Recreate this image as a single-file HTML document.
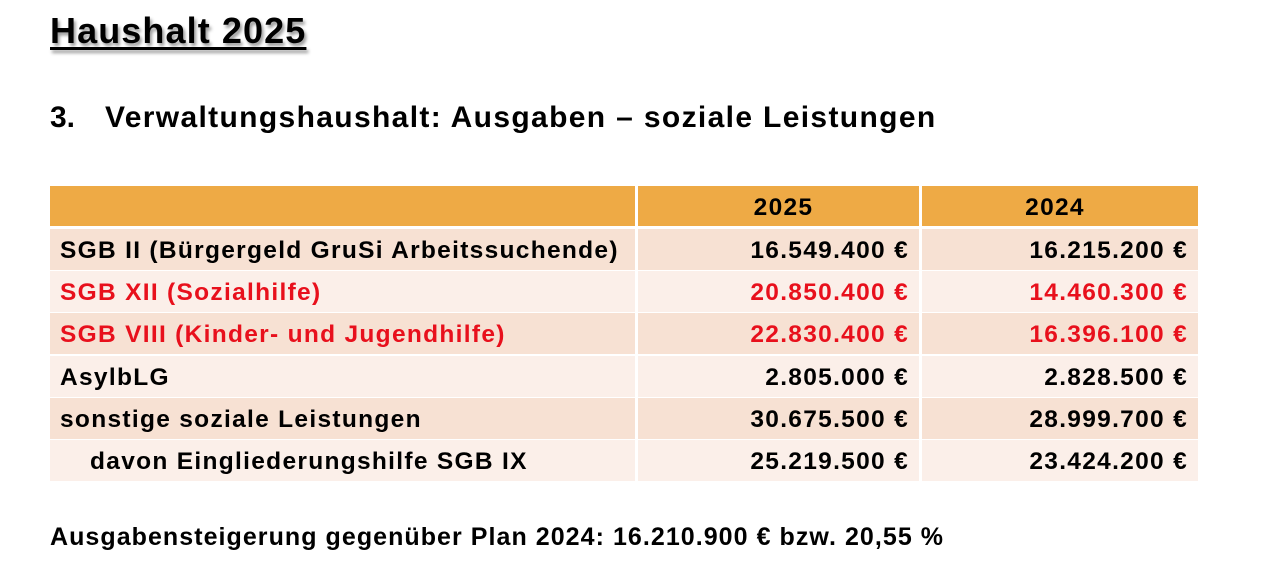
<!DOCTYPE html>
<html><head><meta charset="utf-8"><style>
body{margin:0;width:1280px;height:568px;background:#fff;font-family:"Liberation Sans",sans-serif;font-weight:bold;position:relative;overflow:hidden;color:#000}
.a{position:absolute;white-space:nowrap}
.c{position:absolute;height:41px;line-height:43px;font-size:24.5px;letter-spacing:1.3px;box-sizing:border-box;white-space:nowrap}
.d{background:#f7e1d3}.l{background:#fbefe9}.h{background:#eeaa45}
.r{text-align:right;padding-right:10px}
.red{color:#e8101c}
</style></head><body>
<div class="a" style="left:50px;top:10px;font-size:36px;letter-spacing:1.1px;text-decoration:underline;text-decoration-thickness:3px;text-underline-offset:4px;text-shadow:2px 3px 3px #999">Haushalt 2025</div>
<div class="a" style="left:50px;top:101px;font-size:30px">3.</div>
<div class="a" style="left:105px;top:101px;font-size:30px;letter-spacing:1.35px">Verwaltungshaushalt: Ausgaben – soziale Leistungen</div>

<div class="c h" style="left:50px;top:186px;width:585px;height:40px"></div>
<div class="c h" style="left:638px;top:186px;width:281px;height:40px;text-align:center;line-height:44px;padding-left:10px">2025</div>
<div class="c h" style="left:922px;top:186px;width:276px;height:40px;text-align:center;line-height:44px;padding-right:10px">2024</div>

<div class="c d" style="left:50px;top:229px;width:585px;padding-left:10px">SGB II (Bürgergeld GruSi Arbeitssuchende)</div>
<div class="c d r" style="left:638px;top:229px;width:281px">16.549.400 €</div>
<div class="c d r" style="left:922px;top:229px;width:276px">16.215.200 €</div>

<div class="c l red" style="left:50px;top:271px;width:585px;padding-left:10px">SGB XII (Sozialhilfe)</div>
<div class="c l r red" style="left:638px;top:271px;width:281px">20.850.400 €</div>
<div class="c l r red" style="left:922px;top:271px;width:276px">14.460.300 €</div>

<div class="c d red" style="left:50px;top:313px;width:585px;padding-left:10px">SGB VIII (Kinder- und Jugendhilfe)</div>
<div class="c d r red" style="left:638px;top:313px;width:281px">22.830.400 €</div>
<div class="c d r red" style="left:922px;top:313px;width:276px">16.396.100 €</div>

<div class="c l" style="left:50px;top:356px;width:585px;padding-left:10px">AsylbLG</div>
<div class="c l r" style="left:638px;top:356px;width:281px">2.805.000 €</div>
<div class="c l r" style="left:922px;top:356px;width:276px">2.828.500 €</div>

<div class="c d" style="left:50px;top:398px;width:585px;padding-left:10px">sonstige soziale Leistungen</div>
<div class="c d r" style="left:638px;top:398px;width:281px">30.675.500 €</div>
<div class="c d r" style="left:922px;top:398px;width:276px">28.999.700 €</div>

<div class="c l" style="left:50px;top:440px;width:585px;padding-left:40px">davon Eingliederungshilfe SGB IX</div>
<div class="c l r" style="left:638px;top:440px;width:281px">25.219.500 €</div>
<div class="c l r" style="left:922px;top:440px;width:276px">23.424.200 €</div>

<div class="a" style="left:50px;top:523px;font-size:25px;letter-spacing:1.05px">Ausgabensteigerung gegenüber Plan 2024: 16.210.900 € bzw. 20,55 %</div>
</body></html>
